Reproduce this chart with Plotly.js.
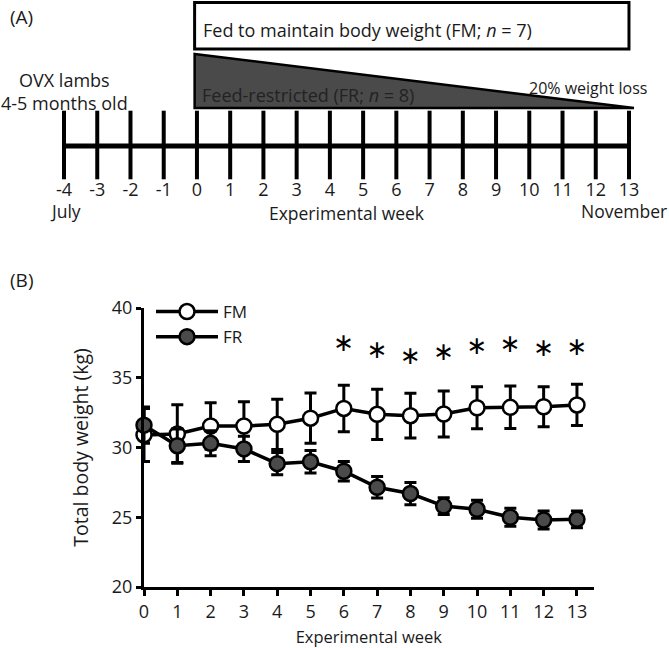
<!DOCTYPE html>
<html><head><meta charset="utf-8">
<script src="https://cdn.plot.ly/plotly-3.0.1.min.js"></script>
<style>html,body{margin:0;padding:0;background:#fff}</style>
</head><body><div id="chart" style="width:669px;height:648px"></div>
<script>
// ---- Data ----
const weeks = [0, 1, 2, 3, 4, 5, 6, 7, 8, 9, 10, 11, 12, 13];
const fmMean = [30.9, 30.97, 31.54, 31.54, 31.66, 32.1, 32.8, 32.38, 32.28, 32.4, 32.85, 32.88, 32.92, 33.05];
const fmErr  = [1.9, 2.1, 1.67, 1.74, 1.8, 1.8, 1.67, 1.8, 1.6, 1.65, 1.5, 1.52, 1.44, 1.48];
const frMean = [31.6, 30.13, 30.3, 29.9, 28.84, 28.98, 28.3, 27.15, 26.7, 25.8, 25.57, 25.0, 24.8, 24.85];
const frErr  = [1.3, 1.2, 0.9, 0.9, 0.8, 0.8, 0.7, 0.77, 0.8, 0.6, 0.65, 0.65, 0.65, 0.6];
const sigWeeks = [6, 7, 8, 9, 10, 11, 12, 13];
const sigY = [37.35, 36.87, 36.4, 36.75, 37.15, 37.28, 37.04, 37.1];
const timelineWeeks = [-4, -3, -2, -1, 0, 1, 2, 3, 4, 5, 6, 7, 8, 9, 10, 11, 12, 13];
const timelineLabels = ['-4', '-3', '-2', '-1', '0', '1', '2', '3', '4', '5', '6', '7', '8', '9', '10', '11', '12', '13'];
const timelineStart = [-4, 13];

// ---- Layout helpers ----
const W = 669, H = 648;
const px = x => x / W;
const py = y => 1 - y / H;
const FONT = 'Open Sans, Noto Sans, sans-serif';
const TXT = '#1a1a1a';
const DARK = '#4a4a4a';
const tlY = 146;

const traces = [
  // Panel A timeline
  { x: timelineStart, y: [tlY, tlY], xaxis: 'x2', yaxis: 'y2', mode: 'lines',
    line: { color: '#000', width: 5 }, showlegend: false, hoverinfo: 'skip' },
  { x: timelineWeeks, y: timelineWeeks.map(() => tlY - 1), xaxis: 'x2', yaxis: 'y2', mode: 'markers',
    marker: { symbol: 'line-ns', size: 49, line: { color: '#000', width: 4 } },
    showlegend: false, hoverinfo: 'skip', cliponaxis: false },
  // Panel B
  { x: weeks, y: fmMean, name: 'FM', mode: 'lines+markers', cliponaxis: false,
    line: { color: '#000', width: 3.5 },
    marker: { size: 15, color: '#fff', line: { color: '#000', width: 2.5 } },
    error_y: { type: 'data', array: fmErr, visible: true, color: '#000', thickness: 3, width: 6 } },
  { x: weeks, y: frMean, name: 'FR', mode: 'lines+markers', cliponaxis: false,
    line: { color: '#000', width: 3.5 },
    marker: { size: 15, color: DARK, line: { color: '#000', width: 2.5 } },
    error_y: { type: 'data', array: frErr, visible: true, color: '#000', thickness: 3, width: 6 } },
  { x: sigWeeks, y: sigY, mode: 'text', text: sigWeeks.map(() => '∗'), cliponaxis: false,
    textfont: { family: 'DejaVu Sans', size: 25, color: '#000' }, showlegend: false, hoverinfo: 'skip' }
];

const layout = {
  width: W, height: H, autosize: false,
  margin: { l: 0, r: 0, t: 0, b: 0 },
  paper_bgcolor: '#fff', plot_bgcolor: 'rgba(0,0,0,0)',
  font: { family: FONT, size: 16, color: TXT },
  showlegend: true,
  legend: { x: px(151), y: py(294), xanchor: 'left', yanchor: 'top', bgcolor: 'rgba(0,0,0,0)',
            font: { family: FONT, size: 17, color: TXT }, itemwidth: 62 },
  xaxis: { domain: [px(144), px(593.6)], range: [0, 13.5], anchor: 'y',
           showline: true, linecolor: '#000', linewidth: 3, ticks: 'outside', ticklen: 6, tickwidth: 3, tickcolor: '#000',
           tickvals: weeks, showgrid: false, zeroline: false,
           tickfont: { size: 18, color: TXT },
           title: { text: 'Experimental week', font: { size: 16.5, color: TXT }, standoff: 13 } },
  yaxis: { domain: [py(587), py(308)], range: [20, 40], anchor: 'x',
           showline: true, linecolor: '#000', linewidth: 3, ticks: 'outside', ticklen: 5, tickwidth: 3, tickcolor: '#000',
           tickvals: [20, 25, 30, 35, 40], showgrid: false, zeroline: false,
           tickfont: { size: 18, color: TXT },
           title: { text: 'Total body weight (kg)', font: { size: 19.5, color: TXT }, standoff: 18 } },
  xaxis2: { domain: [px(47.4), px(645.6)], range: [-4.5, 13.5], anchor: 'y2',
            showline: false, ticks: '', showgrid: false, zeroline: false,
            tickvals: timelineWeeks, ticktext: timelineLabels, tickfont: { size: 18, color: TXT },
            title: { text: 'Experimental week', font: { size: 17.5, color: TXT }, standoff: 0 } },
  yaxis2: { domain: [py(177), 1], range: [177, 0], anchor: 'x2', visible: false },
  shapes: [
    { type: 'rect', xref: 'x2', yref: 'y2', x0: -0.07, x1: 13, y0: 2.5, y1: 49,
      line: { color: '#000', width: 3 }, fillcolor: '#fff' },
    { type: 'path', xref: 'x2', yref: 'y2', path: 'M -0.07,54 L 13.15,108 L -0.07,108 Z',
      line: { color: '#000', width: 2.5 }, fillcolor: DARK }
  ],
  annotations: [
    { xref: 'paper', yref: 'paper', x: px(8), y: py(17), xanchor: 'left', yanchor: 'middle',
      text: '(A)', showarrow: false, font: { size: 19, color: TXT } },
    { xref: 'paper', yref: 'paper', x: px(8), y: py(280), xanchor: 'left', yanchor: 'middle',
      text: '(B)', showarrow: false, font: { size: 19, color: TXT } },
    { xref: 'paper', yref: 'paper', x: px(64), y: py(92), xanchor: 'center', yanchor: 'middle',
      text: 'OVX lambs<br>4-5 months old', showarrow: false, font: { size: 18, color: TXT } },
    { xref: 'paper', yref: 'paper', x: px(201), y: py(30), xanchor: 'left', yanchor: 'middle',
      text: 'Fed to maintain body weight (FM; <i>n</i> = 7)', showarrow: false, font: { size: 18, color: TXT } },
    { xref: 'paper', yref: 'paper', x: px(200), y: py(95), xanchor: 'left', yanchor: 'middle',
      text: 'Feed-restricted (FR; <i>n</i> = 8)', showarrow: false, font: { size: 18, color: '#222' } },
    { xref: 'paper', yref: 'paper', x: px(527), y: py(88), xanchor: 'left', yanchor: 'middle',
      text: '20% weight loss', showarrow: false, font: { size: 16, color: TXT } },
    { xref: 'paper', yref: 'paper', x: px(65), y: py(211), xanchor: 'center', yanchor: 'middle',
      text: 'July', showarrow: false, font: { size: 17.5, color: TXT } },
    { xref: 'paper', yref: 'paper', x: px(669), y: py(211), xanchor: 'right', yanchor: 'middle',
      text: 'November', showarrow: false, font: { size: 17.5, color: TXT } }
  ]
};

Plotly.newPlot('chart', traces, layout, { displayModeBar: false, staticPlot: true });
</script></body></html>
